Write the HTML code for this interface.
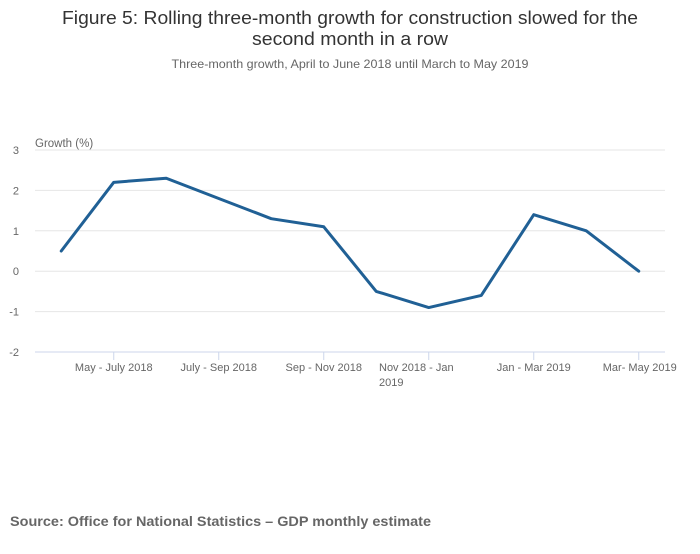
<!DOCTYPE html>
<html><head><meta charset="utf-8"><style>
body{margin:0;background:#fff;width:700px;height:549px;overflow:hidden;font-family:"Liberation Sans",sans-serif}
</style></head><body>
<svg width="700" height="549" id="c" font-family="Liberation Sans, sans-serif">
<text x="350" y="24" text-anchor="middle" font-size="18" fill="#333" textLength="576" lengthAdjust="spacingAndGlyphs">Figure 5: Rolling three-month growth for construction slowed for the</text>
<text x="350" y="45" text-anchor="middle" font-size="18" fill="#333" textLength="196" lengthAdjust="spacingAndGlyphs">second month in a row</text>
<text x="350" y="68" text-anchor="middle" font-size="12" fill="#666" textLength="357" lengthAdjust="spacingAndGlyphs">Three-month growth, April to June 2018 until March to May 2019</text>
<text x="35" y="147" font-size="11.5" fill="#666">Growth (%)</text>
<text x="10" y="526" font-size="14" font-weight="bold" fill="#666" textLength="421" lengthAdjust="spacingAndGlyphs">Source: Office for National Statistics – GDP monthly estimate</text>
<g id="grid"></g><g id="xaxis"></g><g id="series"></g>
</svg>
<script>
const categories=["Apr - Jun 2018","May - July 2018","Jun - Aug 2018","July - Sep 2018","Aug - Oct 2018","Sep - Nov 2018","Oct - Dec 2018","Nov 2018 - Jan 2019","Dec 2018 - Feb 2019","Jan - Mar 2019","Feb - Apr 2019","Mar- May 2019"];
const values=[0.5,2.2,2.3,1.8,1.3,1.1,-0.5,-0.9,-0.6,1.4,1.0,0.0];
const yTicks=[3,2,1,0,-1,-2];
const ns="http://www.w3.org/2000/svg";
const X0=35,X1=665,Y3=150,Y2=352;
const bw=(X1-X0)/categories.length;
const xs=i=>X0+bw*(i+0.5);
const ys=v=>Y3+(3-v)*(Y2-Y3)/5;
function mk(t,a,p){const e=document.createElementNS(ns,t);for(const k in a)e.setAttribute(k,a[k]);p.appendChild(e);return e;}
const g=document.getElementById('grid');
yTicks.forEach(t=>{
 const l=mk('line',{x1:X0,x2:X1,y1:ys(t),y2:ys(t),stroke:t===-2?'#ccd6eb':'#e6e6e6','stroke-width':1},g);
 
 
 const tx=mk('text',{x:19,y:ys(t)+4,'text-anchor':'end','font-size':11,fill:'#666'},g);
 tx.textContent=t;
 
 
});
const xa=document.getElementById('xaxis');
categories.forEach((c,i)=>{
 if(i%2!==1)return;
 const x=xs(i);
 const tk=mk('line',{x1:x,x2:x,y1:Y2,y2:Y2+8,stroke:'#ccd6eb'},xa);
 
 
 if(c.startsWith('Nov 2018')){
  const t1=mk('text',{x:379,y:371,'font-size':11,fill:'#666'},xa);t1.textContent='Nov 2018 - Jan';
  
  
  const t2=mk('text',{x:379,y:386,'font-size':11,fill:'#666'},xa);t2.textContent='2019';
  
  
 } else {
  const t=mk('text',{x:i===11?x+1:x,y:371,'text-anchor':'middle','font-size':11,fill:'#666'},xa);t.textContent=c;
  
  
 }
});
const s=document.getElementById('series');
const p=mk('path',{d:values.map((v,i)=>(i?'L':'M')+xs(i)+' '+ys(v)).join(' '),fill:'none',stroke:'#206095','stroke-width':3,'stroke-linejoin':'round','stroke-linecap':'round'},s);


</script>
</body></html>
